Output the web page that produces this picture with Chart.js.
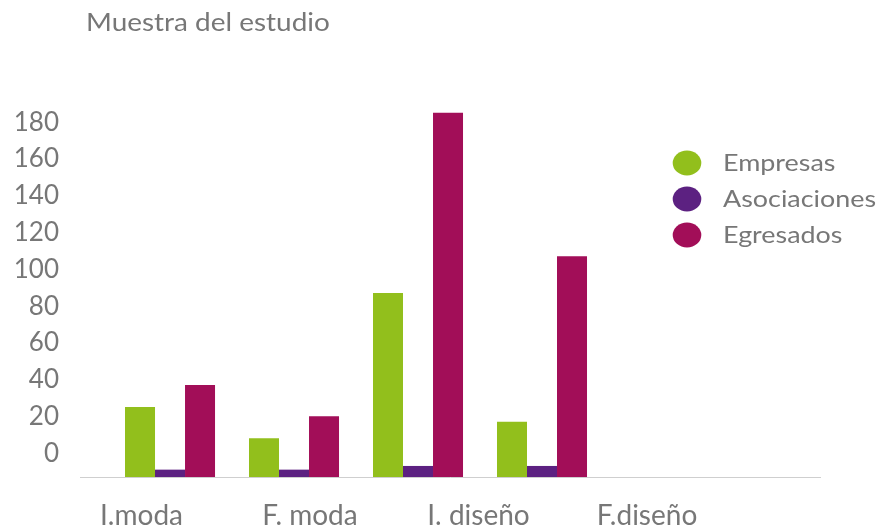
<!DOCTYPE html>
<html>
<head>
<meta charset="utf-8">
<script src="https://cdn.jsdelivr.net/npm/chart.js@4/dist/chart.umd.min.js"></script>
<style>
  body { margin: 0; background: #fff; }
  #wrap { position: relative; width: 883px; height: 531px; }
  #title {
    position: absolute; left: 86px; top: 7px;
    font: 24.5px Lato, sans-serif; color: #777;
    transform: scaleX(1.14); transform-origin: left top;
  }
</style>
</head>
<body>
<div id="wrap">
  <div id="title">Muestra del estudio</div>
  <canvas id="chart" width="883" height="531"></canvas>
</div>
<script>
// values
const categories = ['I.moda', 'F. moda', 'I. diseño', 'F.diseño'];
const seriesNames = ['Empresas', 'Asociaciones', 'Egresados'];
const empresas = [38, 21, 100, 30];
const asociaciones = [4, 4, 6, 6];
const egresados = [50, 33, 198, 120];
const yTicks = [0, 20, 40, 60, 80, 100, 120, 140, 160, 180];
const colors = ['#92bf1c', '#5c2181', '#a20e58'];

const GRAY = '#777';
const FONT = 'Lato';

// bars sit on a linear axis so the groups can be packed tighter than the labels
function toPoints(arr) {
    return arr.map((v, i) => ({ x: i, y: v }));
}

// legend drawn on the right side of the plot (source image is a bit stretched sideways)
const sideLegend = {
    id: 'sideLegend',
    afterDraw(chart) {
        const ctx = chart.ctx;
        ctx.save();
        ctx.font = '24px Lato, sans-serif';
        ctx.textBaseline = 'middle';
        chart.data.datasets.forEach((ds, i) => {
            const y = 163 + i * 36;
            ctx.fillStyle = ds.backgroundColor;
            ctx.beginPath();
            ctx.ellipse(687, y, 14.3, 12.5, 0, 0, Math.PI * 2);
            ctx.fill();
            ctx.fillStyle = GRAY;
            ctx.save();
            ctx.translate(723, y);
            ctx.scale(1.12, 1);
            ctx.fillText(ds.label, 0, 0);
            ctx.restore();
        });
        ctx.restore();
    }
};

const ctx = document.getElementById('chart').getContext('2d');
new Chart(ctx, {
    type: 'bar',
    data: {
        datasets: [empresas, asociaciones, egresados].map((arr, i) => ({
            label: seriesNames[i],
            data: toPoints(arr),
            backgroundColor: colors[i],
            borderWidth: 0,
            xAxisID: 'xb',
            yAxisID: 'y',
            categoryPercentage: 0.726,
            barPercentage: 1
        }))
    },
    options: {
        responsive: false,
        animation: false,
        layout: { padding: { top: 109, right: 63, left: 0, bottom: 0 } },
        scales: {
            x: {
                type: 'linear',
                position: 'bottom',
                offset: false,
                min: -0.365,
                max: 4.027,
                afterBuildTicks: s => { s.ticks = categories.map((_, i) => ({ value: i })); },
                afterFit: s => { s.height = 54; },
                grid: { display: false, drawTicks: false },
                border: { color: '#cfcfcf', width: 1 },
                ticks: {
                    padding: 22,
                    color: GRAY,
                    font: { family: FONT, size: 28 },
                    maxRotation: 0,
                    autoSkip: false,
                    callback: v => categories[v]
                }
            },
            xb: {
                type: 'linear',
                display: false,
                offset: false,
                min: -0.726,
                max: 5.242,
                afterBuildTicks: s => { s.ticks = categories.map((_, i) => ({ value: i })); }
            },
            y: {
                min: 0,
                max: 200,
                afterBuildTicks: s => { s.ticks = yTicks.map(v => ({ value: v })); },
                afterFit: s => { s.width = 80; },
                grid: { display: false, drawTicks: false },
                border: { display: false },
                ticks: {
                    padding: 21,
                    labelOffset: -23.5,
                    color: GRAY,
                    font: { family: FONT, size: 26 }
                }
            }
        },
        plugins: {
            legend: { display: false },
            tooltip: { enabled: false }
        }
    },
    plugins: [sideLegend]
});
</script>
</body>
</html>
